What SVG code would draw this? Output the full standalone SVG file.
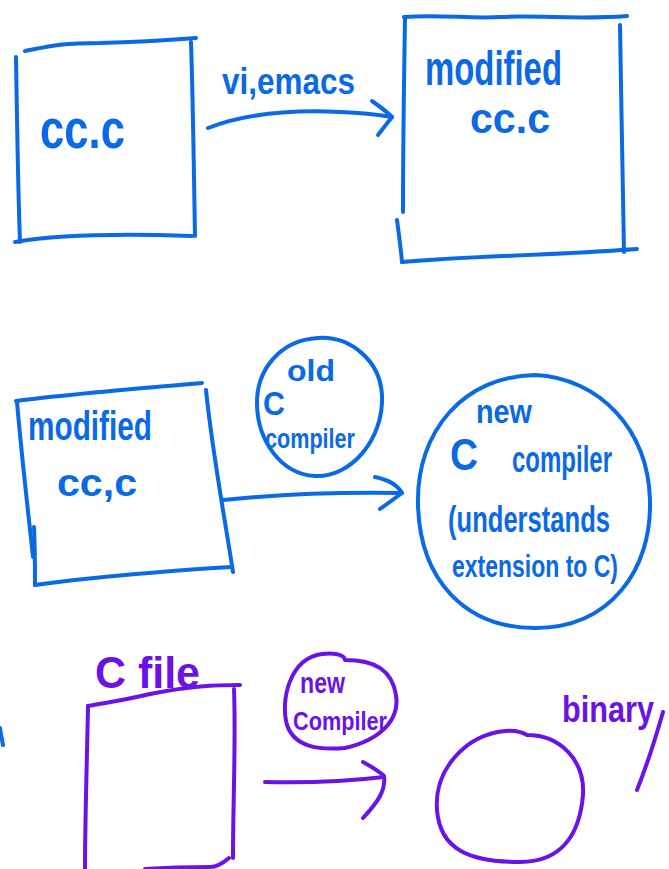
<svg xmlns="http://www.w3.org/2000/svg" width="669" height="869" viewBox="0 0 669 869">
  <style>
    .ink { fill: none; stroke-width: 4; stroke-linecap: round; stroke-linejoin: round; }
    .blue { stroke: #0a69e4; }
    .purple { stroke: #6a13e6; }
    .lbl { font-family: "Liberation Sans", "DejaVu Sans", sans-serif; font-weight: bold; }
    .lb { fill: #0a69e4; }
    .lp { fill: #6a13e6; }
  </style>
  <rect width="669" height="869" fill="#ffffff"/>

  <!-- Row 1: cc.c edited into modified cc.c -->
  <g id="file-cc">
    <path class="ink blue" d="M25 51 C50 46 60 43 100 43 C140 42 170 40 196 38"/>
    <path class="ink blue" d="M191 42 C193 100 194 180 195 236"/>
    <path class="ink blue" d="M16 57 C17 120 18 190 20 242"/>
    <path class="ink blue" d="M15 242 C50 236 110 233 192 236"/>
    <text class="lbl lb" x="40" y="148" font-size="56" textLength="85" lengthAdjust="spacingAndGlyphs">cc.c</text>
  </g>

  <g id="file-modified">
    <path class="ink blue" d="M404 17 C440 14 470 19 500 17 C540 15 580 20 627 16"/>
    <path class="ink blue" d="M405 17 C404 80 403 150 403 212"/>
    <path class="ink blue" d="M397 220 C399 235 401 250 402 262"/>
    <path class="ink blue" d="M402 262 C470 256 540 256 637 249"/>
    <path class="ink blue" d="M620 25 C621 100 623 180 624 252"/>
    <text class="lbl lb" x="425" y="85" font-size="48" textLength="137" lengthAdjust="spacingAndGlyphs">modified</text>
    <text class="lbl lb" x="470" y="133" font-size="42" textLength="80" lengthAdjust="spacingAndGlyphs">cc.c</text>
  </g>

  <!-- Row 2: modified cc.c compiled by old compiler -->
  <g id="file-modified-2">
    <path class="ink blue" d="M16 401 C60 395 120 390 202 383"/>
    <path class="ink blue" d="M17 402 C22 460 28 510 33 557"/>
    <path class="ink blue" d="M34 527 C35 550 35 570 35 585"/>
    <path class="ink blue" d="M35 585 C100 576 160 572 230 567"/>
    <path class="ink blue" d="M206 390 C212 450 225 520 233 572"/>
    <text class="lbl lb" x="28" y="440" font-size="40" textLength="124" lengthAdjust="spacingAndGlyphs">modified</text>
    <text class="lbl lb" x="57" y="496" font-size="38" textLength="80" lengthAdjust="spacingAndGlyphs">cc,c</text>
  </g>

  <g id="old-compiler">
    <path class="ink blue" d="M318 338 C350 336 380 360 382 395 C384 440 350 478 315 476 C280 474 258 440 257 405 C256 370 280 340 318 338 Z"/>
    <text class="lbl lb" x="287" y="381" font-size="30" textLength="48" lengthAdjust="spacingAndGlyphs">old</text>
    <text class="lbl lb" x="263" y="415" font-size="34" textLength="22" lengthAdjust="spacingAndGlyphs">C</text>
    <text class="lbl lb" x="265" y="448" font-size="27" textLength="90" lengthAdjust="spacingAndGlyphs">compiler</text>
  </g>

  <g id="new-c-compiler">
    <path class="ink blue" d="M535 375 C600 378 648 430 650 500 C652 570 610 628 535 628 C465 628 420 580 418 505 C416 430 465 376 535 375 Z"/>
    <text class="lbl lb" x="476" y="423" font-size="34" textLength="56" lengthAdjust="spacingAndGlyphs">new</text>
    <text class="lbl lb" x="450" y="470" font-size="44" textLength="28" lengthAdjust="spacingAndGlyphs">C</text>
    <text class="lbl lb" x="512" y="472" font-size="36" textLength="100" lengthAdjust="spacingAndGlyphs">compiler</text>
    <text class="lbl lb" x="448" y="532" font-size="36" textLength="162" lengthAdjust="spacingAndGlyphs">(understands</text>
    <text class="lbl lb" x="452" y="577" font-size="32" textLength="166" lengthAdjust="spacingAndGlyphs">extension to C)</text>
  </g>

  <!-- Row 3: C file compiled by new compiler into binary -->
  <g id="c-file">
    <path class="ink purple" d="M88 706 C110 702 125 700 150 694 C190 686 215 685 240 685"/>
    <path class="ink purple" d="M88 706 C87 760 85 820 85 869"/>
    <path class="ink purple" d="M234 689 C236 740 233 800 233 858"/>
    <path class="ink purple" d="M229 858 C222 864 216 867 210 867 C180 867 160 868 145 869"/>
    <text class="lbl lp" x="95" y="688" font-size="44" textLength="105" lengthAdjust="spacingAndGlyphs">C file</text>
  </g>

  <g id="new-compiler">
    <path class="ink purple" d="M322 654 C342 652 345 658 345 660 C375 660 392 670 396 695 C400 720 380 740 345 748 C320 750 295 748 287 725 C280 700 290 658 322 654 Z"/>
    <text class="lbl lp" x="300" y="693" font-size="30" textLength="45" lengthAdjust="spacingAndGlyphs">new</text>
    <text class="lbl lp" x="293" y="730" font-size="26" textLength="94" lengthAdjust="spacingAndGlyphs">Compiler</text>
  </g>

  <g id="binary">
    <path class="ink purple" d="M527 735 C560 735 585 760 583 795 C580 830 565 862 520 862 C470 862 440 850 437 810 C434 770 465 735 505 731 C515 730 522 732 527 735 Z"/>
    <text class="lbl lp" x="562" y="722" font-size="36" textLength="92" lengthAdjust="spacingAndGlyphs">binary</text>
    <path class="ink purple" d="M663 712 C655 740 645 770 637 790"/>
  </g>

  <!-- Connectors -->
  <g id="connectors">
    <path class="ink blue" d="M208 128 C250 112 300 110 340 112 C365 113 380 115 392 117"/>
    <path class="ink blue" d="M372 101 C382 108 388 113 392 117 L378 135"/>
    <text class="lbl lb" x="222" y="94" font-size="36" textLength="133" lengthAdjust="spacingAndGlyphs">vi,emacs</text>

    <path class="ink blue" d="M223 500 C280 494 340 492 402 493"/>
    <path class="ink blue" d="M375 477 C390 480 398 486 402 493 L380 509"/>

    <path class="ink purple" d="M265 782 C310 783 350 781 384 777"/>
    <path class="ink purple" d="M363 762 C372 767 380 772 384 776 C386 790 378 802 363 818"/>

    <path class="ink blue" d="M0 728 C1 735 2 740 3 745"/>
  </g>
</svg>
